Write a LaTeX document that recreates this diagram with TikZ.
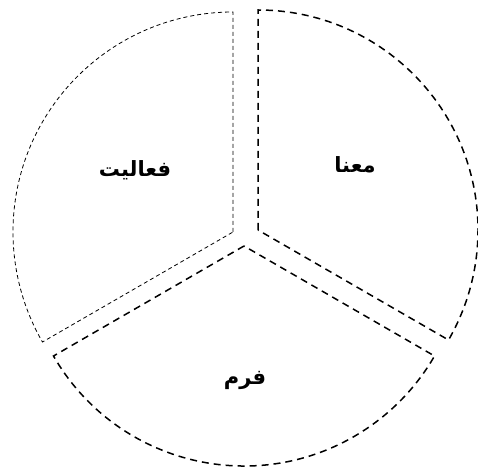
\documentclass[tikz,border=0pt]{standalone}
\usepackage{fontspec}
\usepackage{tikz}
\usetikzlibrary{calc}
\TeXXeTstate=1
\newfontfamily\arabicfont[Script=Arabic]{DejaVu Sans}

\begin{document}
\begin{tikzpicture}[x=1pt, y=1pt,
                thinsector/.style={draw=black, line width=0.8pt, dash pattern=on 4pt off 3pt},
                thicksector/.style={draw=black, line width=1.5pt, dash pattern=on 7pt off 5pt},
                seclabel/.style={font=\arabicfont\bfseries\fontsize{21}{25}\selectfont}
            ]
            \useasboundingbox (0,0) rectangle (478,468);

            % apexes of the three sectors
            \coordinate (left) at (233,236);
            \coordinate (right) at (258,238);
            \coordinate (bottom) at (244,222);

            % sectors
            \draw[thinsector] (left) -- ++(90:220) arc[start angle=90, end angle=210, radius=220] -- cycle;
            \draw[thicksector] (right) -- ++(90:220) arc[start angle=90, end angle=-30, radius=220] -- cycle;
            \draw[thicksector] (bottom) -- ++(210:220) arc[start angle=210, end angle=330, radius=220] -- cycle;

            % labels
            \node[seclabel] (act) at (135,298) {\beginR فعالیت\endR};
            \node[seclabel] (mean) at (355,303) {\beginR معنا\endR};
            \node[seclabel] (form) at (245,88) {\beginR فرم\endR};

        \end{tikzpicture}
\end{document}
